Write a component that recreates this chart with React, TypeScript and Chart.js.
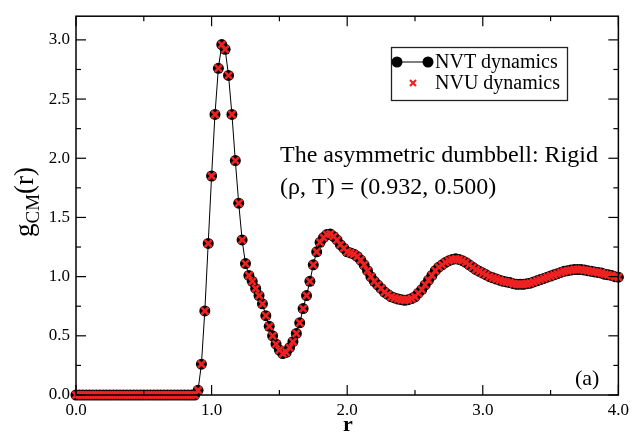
import React, { useEffect, useRef } from "react";
import { Chart, registerables } from "chart.js";

Chart.register(...registerables);

// r values (separation), step
const rValues = [
  0.0, 0.025, 0.05, 0.075, 0.1, 0.125, 0.15, 0.175,
  0.2, 0.225, 0.25, 0.275, 0.3, 0.325, 0.35, 0.375,
  0.4, 0.425, 0.45, 0.475, 0.5, 0.525, 0.55, 0.575,
  0.6, 0.625, 0.65, 0.675, 0.7, 0.725, 0.75, 0.775,
  0.8, 0.825, 0.85, 0.875, 0.9, 0.925, 0.95, 0.975,
  1.0, 1.025, 1.05, 1.075, 1.1, 1.125, 1.15, 1.175,
  1.2, 1.225, 1.25, 1.275, 1.3, 1.325, 1.35, 1.375,
  1.4, 1.425, 1.45, 1.475, 1.5, 1.525, 1.55, 1.575,
  1.6, 1.625, 1.65, 1.675, 1.7, 1.725, 1.75, 1.775,
  1.8, 1.825, 1.85, 1.875, 1.9, 1.925, 1.95, 1.975,
  2.0, 2.025, 2.05, 2.075, 2.1, 2.125, 2.15, 2.175,
  2.2, 2.225, 2.25, 2.275, 2.3, 2.325, 2.35, 2.375,
  2.4, 2.425, 2.45, 2.475, 2.5, 2.525, 2.55, 2.575,
  2.6, 2.625, 2.65, 2.675, 2.7, 2.725, 2.75, 2.775,
  2.8, 2.825, 2.85, 2.875, 2.9, 2.925, 2.95, 2.975,
  3.0, 3.025, 3.05, 3.075, 3.1, 3.125, 3.15, 3.175,
  3.2, 3.225, 3.25, 3.275, 3.3, 3.325, 3.35, 3.375,
  3.4, 3.425, 3.45, 3.475, 3.5, 3.525, 3.55, 3.575,
  3.6, 3.625, 3.65, 3.675, 3.7, 3.725, 3.75, 3.775,
  3.8, 3.825, 3.85, 3.875, 3.9, 3.925, 3.95, 3.975,
  4.0,
];

// g_CM(r), NVT dynamics
const nvtValues = [
  0, 0, 0, 0, 0, 0, 0, 0,
  0, 0, 0, 0, 0, 0, 0, 0,
  0, 0, 0, 0, 0, 0, 0, 0,
  0, 0, 0, 0, 0, 0, 0, 0,
  0, 0, 0, 0, 0.04, 0.26, 0.71, 1.28,
  1.85, 2.37, 2.76, 2.96, 2.92, 2.7, 2.37, 1.98,
  1.62, 1.31, 1.11, 1.01, 0.96, 0.9, 0.84, 0.77,
  0.67, 0.58, 0.5, 0.43, 0.38, 0.35, 0.36, 0.4,
  0.45, 0.52, 0.61, 0.73, 0.84, 0.96, 1.1, 1.21,
  1.29, 1.33, 1.355, 1.36, 1.34, 1.31, 1.27, 1.24,
  1.21, 1.2, 1.19, 1.17, 1.14, 1.1, 1.05, 1.0,
  0.96, 0.93, 0.9, 0.87, 0.85, 0.83, 0.82, 0.81,
  0.805, 0.8, 0.805, 0.815, 0.83, 0.86, 0.89, 0.93,
  0.97, 1.01, 1.05, 1.08, 1.1, 1.12, 1.135, 1.145,
  1.15, 1.145, 1.135, 1.12, 1.1, 1.08, 1.06, 1.045,
  1.03, 1.015, 1.0, 0.99, 0.98, 0.97, 0.96, 0.955,
  0.95, 0.94, 0.935, 0.935, 0.935, 0.94, 0.945, 0.955,
  0.965, 0.975, 0.985, 0.995, 1.005, 1.015, 1.025, 1.035,
  1.045, 1.05, 1.055, 1.06, 1.06, 1.06, 1.055, 1.05,
  1.045, 1.04, 1.035, 1.03, 1.02, 1.015, 1.01, 1.0,
  0.995,
];

// g_CM(r), NVU dynamics (indistinguishable from NVT in the picture)
const nvuValues = nvtValues.slice();

const xTickValues = [0, 1, 2, 3, 4];
const xMinorTickValues = [0.5, 1.5, 2.5, 3.5];
const yTickValues = [0, 0.5, 1, 1.5, 2, 2.5, 3];
const yMinorTickValues = [0.25, 0.75, 1.25, 1.75, 2.25, 2.75];
const seriesLabels = ["NVT dynamics", "NVU dynamics"];
const annotationLines = ["The asymmetric dumbbell: Rigid", "(\u03c1, T) = (0.932, 0.500)"];
const panelLabel = "(a)";
const xTitle = "r";
const yTitleParts = ["g", "CM", "(r)"];

const SERIF = '"Liberation Serif", "Times New Roman", serif';
const RED = "#ee2222";

Chart.defaults.font.family = SERIF;
Chart.defaults.color = "#000";

const framePlugin = {
  id: "frame",
  afterDatasetsDraw(chart: any) {
    const { ctx, chartArea: a, scales } = chart;
    const xs = scales.x;
    const ys = scales.y;
    ctx.save();
    ctx.strokeStyle = "#000";
    ctx.lineWidth = 1.5;
    ctx.strokeRect(a.left, a.top, a.right - a.left, a.bottom - a.top);
    ctx.lineWidth = 1.2;
    const seg = (x1: number, y1: number, x2: number, y2: number) => {
      ctx.beginPath();
      ctx.moveTo(x1, y1);
      ctx.lineTo(x2, y2);
      ctx.stroke();
    };
    const xt = (vals: number[], len: number) =>
      vals.forEach((v) => {
        const p = xs.getPixelForValue(v);
        seg(p, a.bottom, p, a.bottom - len);
        seg(p, a.top, p, a.top + len);
      });
    const yt = (vals: number[], len: number) =>
      vals.forEach((v) => {
        const p = ys.getPixelForValue(v);
        seg(a.left, p, a.left + len, p);
        seg(a.right, p, a.right - len, p);
      });
    xt(xTickValues, 10);
    xt(xMinorTickValues, 5);
    yt(yTickValues, 10);
    yt(yMinorTickValues, 5);
    ctx.restore();
  },
};

const textPlugin = {
  id: "texts",
  afterDraw(chart: any) {
    const { ctx } = chart;
    ctx.save();
    ctx.fillStyle = "#000";
    ctx.textBaseline = "alphabetic";
    ctx.textAlign = "left";

    // annotation
    ctx.font = `24px ${SERIF}`;
    ctx.fillText(annotationLines[0], 280, 162);
    ctx.fillText(annotationLines[1], 280, 194);

    // panel label
    ctx.font = `22px ${SERIF}`;
    ctx.fillText(panelLabel, 575, 385);

    // legend
    ctx.lineWidth = 1.3;
    ctx.strokeStyle = "#222";
    ctx.strokeRect(391.5, 47.5, 176, 53);
    ctx.strokeStyle = "#000";
    ctx.lineWidth = 1;
    ctx.beginPath();
    ctx.moveTo(397, 62);
    ctx.lineTo(428, 62);
    ctx.stroke();
    [397, 428].forEach((x) => {
      ctx.beginPath();
      ctx.arc(x, 62, 5.5, 0, Math.PI * 2);
      ctx.fill();
    });
    ctx.strokeStyle = RED;
    ctx.lineWidth = 2.2;
    ctx.beginPath();
    ctx.moveTo(410, 80);
    ctx.lineTo(416, 86);
    ctx.moveTo(416, 80);
    ctx.lineTo(410, 86);
    ctx.stroke();
    ctx.fillStyle = "#000";
    ctx.font = `20px ${SERIF}`;
    ctx.textBaseline = "middle";
    ctx.fillText(seriesLabels[0], 435, 63);
    ctx.fillText(seriesLabels[1], 435, 84);

    // x title
    ctx.textAlign = "center";
    ctx.textBaseline = "alphabetic";
    ctx.font = `bold 22px ${SERIF}`;
    ctx.fillText(xTitle, 348, 431);

    // y title (rotated, with subscript)
    ctx.translate(33, 237);
    ctx.rotate(-Math.PI / 2);
    ctx.textAlign = "left";
    let x = 0;
    ctx.font = `27px ${SERIF}`;
    ctx.fillText(yTitleParts[0], x, 0);
    x += ctx.measureText(yTitleParts[0]).width;
    ctx.font = `19px ${SERIF}`;
    ctx.fillText(yTitleParts[1], x, 6);
    x += ctx.measureText(yTitleParts[1]).width;
    ctx.font = `27px ${SERIF}`;
    ctx.fillText(yTitleParts[2], x, 0);
    ctx.restore();
  },
};

export default function App() {
  const canvasRef = useRef<HTMLCanvasElement | null>(null);

  useEffect(() => {
    const canvas = canvasRef.current;
    if (!canvas) return;
    const tickFont = { family: SERIF, size: 17 };
    const chart = new Chart(canvas, {
      type: "scatter",
      data: {
        datasets: [
          {
            label: seriesLabels[1],
            data: rValues.map((r, i) => ({ x: r, y: nvuValues[i] })),
            showLine: false,
            pointStyle: "crossRot",
            pointRadius: 5,
            pointBorderColor: RED,
            pointBackgroundColor: RED,
            pointBorderWidth: 2.6,
            clip: false,
            order: 1,
          } as any,
          {
            label: seriesLabels[0],
            data: rValues.map((r, i) => ({ x: r, y: nvtValues[i] })),
            showLine: true,
            borderColor: "#000",
            borderWidth: 1,
            pointStyle: "circle",
            pointRadius: 5.5,
            pointBackgroundColor: "#000",
            pointBorderColor: "#000",
            pointBorderWidth: 0,
            clip: false,
            order: 2,
          } as any,
        ],
      },
      options: {
        animation: false,
        responsive: false,
        devicePixelRatio: 1,
        font: { family: SERIF },
        layout: { padding: { top: 15, right: 14, left: 0, bottom: 0 } },
        plugins: { legend: { display: false }, tooltip: { enabled: false }, title: { display: false } },
        scales: {
          x: {
            type: "linear",
            min: 0,
            max: 4,
            grid: { display: false, drawTicks: false },
            border: { display: false },
            afterBuildTicks: (s: any) => {
              s.ticks = xTickValues.map((v) => ({ value: v }));
            },
            afterFit: (s: any) => {
              s.height = 39;
            },
            ticks: {
              autoSkip: false,
              maxRotation: 0,
              padding: 5,
              color: "#000",
              font: tickFont,
              callback: (v: any) => Number(v).toFixed(1),
            },
          },
          y: {
            type: "linear",
            min: 0,
            max: 3.2,
            grid: { display: false, drawTicks: false },
            border: { display: false },
            afterBuildTicks: (s: any) => {
              s.ticks = yTickValues.map((v) => ({ value: v }));
            },
            afterFit: (s: any) => {
              s.width = 76;
            },
            ticks: {
              autoSkip: false,
              padding: 6,
              color: "#000",
              font: tickFont,
              callback: (v: any) => Number(v).toFixed(1),
            },
          },
        },
      } as any,
      plugins: [framePlugin, textPlugin],
    });
    return () => chart.destroy();
  }, []);

  return (
    <div style={{ position: "fixed", left: 0, top: 0, width: 634, height: 434, background: "#fff" }}>
      <canvas ref={canvasRef} width={634} height={434} />
    </div>
  );
}
